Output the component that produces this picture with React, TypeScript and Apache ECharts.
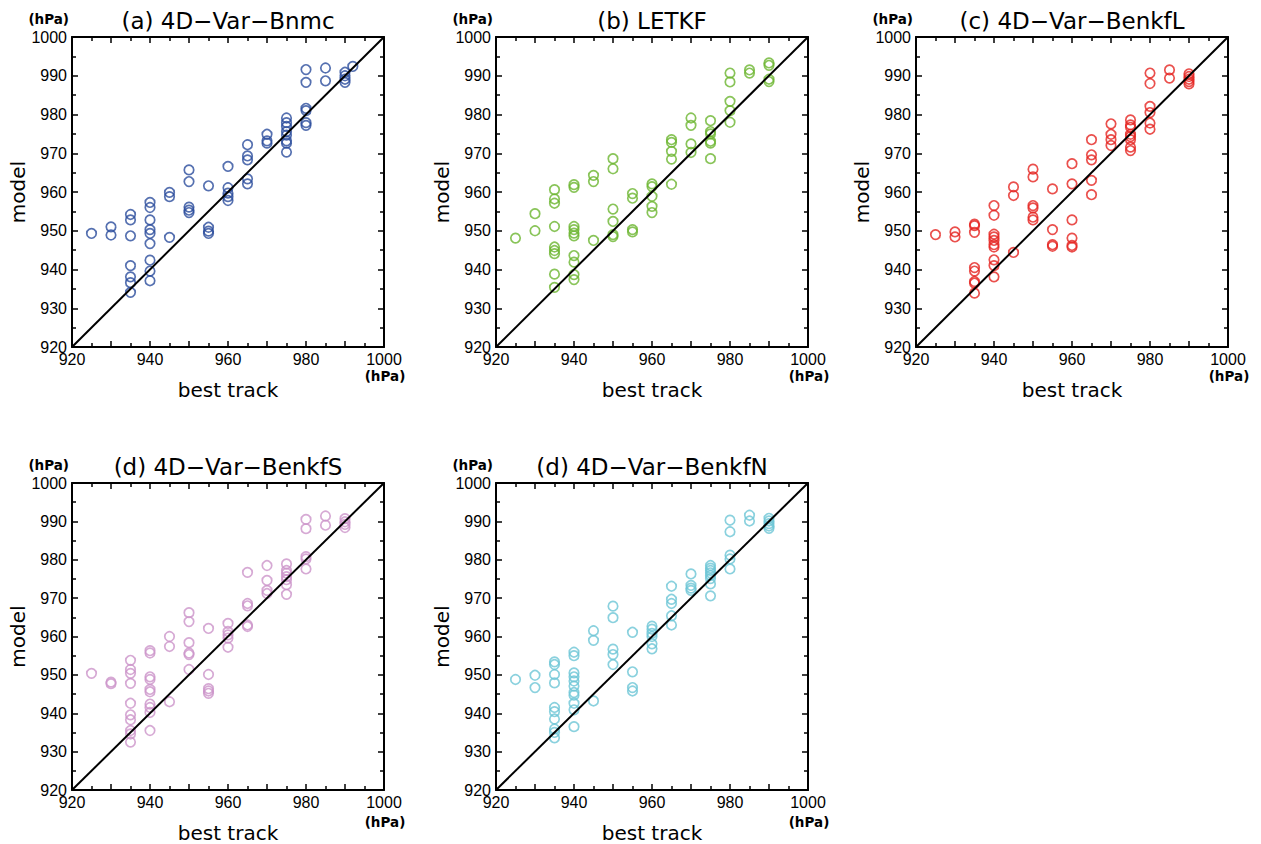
import React, { useEffect, useRef } from "react";
import * as echarts from "echarts";

// ---- data ----
const axisMin = 920;
const axisMax = 1000;
const diagonal: [number, number][] = [[920, 920], [1000, 1000]];

const titles = [
  "(a) 4D−Var−Bnmc",
  "(b) LETKF",
  "(c) 4D−Var−BenkfL",
  "(d) 4D−Var−BenkfS",
  "(d) 4D−Var−BenkfN",
];

const colors = ["#2b4c9c", "#6cb52f", "#e52421", "#cc94c9", "#6dc6d6"];

const bnmc: [number, number][] = [
  [925, 949.3], [930, 951.0], [930, 948.9],
  [935, 954.2], [935, 952.8], [935, 948.7], [935, 941.0], [935, 938.1], [935, 936.6], [935, 934.1],
  [940, 957.3], [940, 956.0], [940, 952.8], [940, 950.3], [940, 949.3], [940, 946.7], [940, 942.4], [940, 939.6], [940, 937.1],
  [945, 959.9], [945, 958.8], [945, 948.3],
  [950, 965.7], [950, 962.7], [950, 956.1], [950, 955.3], [950, 954.7],
  [955, 961.6], [955, 950.9], [955, 949.9], [955, 949.3],
  [960, 966.6], [960, 961.1], [960, 959.7], [960, 958.8], [960, 957.8],
  [965, 972.2], [965, 969.3], [965, 968.3], [965, 963.4], [965, 962.1],
  [970, 974.9], [970, 973.2], [970, 972.6],
  [975, 979.1], [975, 977.9], [975, 976.9], [975, 975.6], [975, 974.7], [975, 973.2], [975, 972.6], [975, 970.3],
  [980, 991.6], [980, 988.3], [980, 981.6], [980, 981.0], [980, 977.9], [980, 977.2],
  [985, 992.0], [985, 988.7],
  [990, 990.9], [990, 990.0], [990, 989.1], [990, 988.3],
  [992, 992.4],
];

const letkf: [number, number][] = [
  [925, 948.1], [930, 954.4], [930, 950.0],
  [935, 960.6], [935, 958.2], [935, 957.1], [935, 951.1], [935, 945.8], [935, 944.9], [935, 944.1], [935, 938.8], [935, 935.4],
  [940, 961.9], [940, 961.2], [940, 951.1], [940, 950.3], [940, 949.4], [940, 948.7], [940, 943.6], [940, 941.9], [940, 938.7], [940, 937.4],
  [945, 964.3], [945, 962.7], [945, 947.5],
  [950, 968.6], [950, 966.0], [950, 955.6], [950, 952.4], [950, 949.0], [950, 948.5],
  [955, 959.6], [955, 958.4], [955, 950.3], [955, 949.7],
  [960, 962.1], [960, 961.4], [960, 958.9], [960, 956.3], [960, 954.7],
  [965, 973.5], [965, 972.8], [965, 970.5], [965, 968.5], [965, 962.0],
  [970, 979.1], [970, 977.2], [970, 972.4], [970, 970.2],
  [975, 978.4], [975, 975.6], [975, 975.0], [975, 973.1], [975, 972.6], [975, 968.6],
  [980, 990.7], [980, 988.4], [980, 983.4], [980, 981.0], [980, 978.0],
  [985, 991.5], [985, 990.7],
  [990, 993.3], [990, 992.7], [990, 989.1], [990, 988.5],
];

const benkfL: [number, number][] = [
  [925, 949.0], [930, 949.7], [930, 948.4],
  [935, 951.7], [935, 951.3], [935, 949.6], [935, 940.5], [935, 939.6], [935, 936.9], [935, 936.5], [935, 933.9],
  [940, 956.5], [940, 954.0], [940, 949.1], [940, 948.4], [940, 947.5], [940, 946.4], [940, 945.8], [940, 942.5], [940, 941.0], [940, 938.1],
  [945, 961.3], [945, 959.1], [945, 944.4],
  [950, 965.9], [950, 963.9], [950, 956.5], [950, 955.9], [950, 953.5], [950, 952.8],
  [955, 960.8], [955, 950.3], [955, 946.4], [955, 946.0],
  [960, 967.3], [960, 962.1], [960, 952.8], [960, 948.1], [960, 946.2], [960, 945.8],
  [965, 973.5], [965, 969.6], [965, 968.3], [965, 963.0], [965, 959.3],
  [970, 977.6], [970, 974.9], [970, 973.5], [970, 972.0],
  [975, 978.6], [975, 977.3], [975, 976.7], [975, 974.9], [975, 974.3], [975, 973.5], [975, 971.6], [975, 970.7],
  [980, 990.7], [980, 988.0], [980, 982.1], [980, 980.5], [980, 977.8], [980, 976.2],
  [985, 991.5], [985, 989.4],
  [990, 990.5], [990, 989.8], [990, 989.1], [990, 988.5], [990, 987.9],
];

const benkfS: [number, number][] = [
  [925, 950.4], [930, 948.1], [930, 947.7],
  [935, 953.8], [935, 951.4], [935, 950.4], [935, 947.8], [935, 942.6], [935, 939.6], [935, 938.3], [935, 935.5], [935, 934.6], [935, 932.5],
  [940, 956.3], [940, 955.7], [940, 949.5], [940, 948.8], [940, 946.2], [940, 945.6], [940, 942.4], [940, 941.5], [940, 940.2], [940, 935.5],
  [945, 960.0], [945, 957.4], [945, 943.0],
  [950, 966.2], [950, 963.9], [950, 958.4], [950, 955.7], [950, 955.3], [950, 951.4],
  [955, 962.1], [955, 950.1], [955, 946.4], [955, 945.8], [955, 945.2],
  [960, 963.4], [960, 961.3], [960, 960.4], [960, 959.6], [960, 957.2],
  [965, 976.7], [965, 968.6], [965, 968.0], [965, 963.0], [965, 962.6],
  [970, 978.5], [970, 974.6], [970, 972.0], [970, 971.2],
  [975, 978.9], [975, 977.2], [975, 976.5], [975, 975.6], [975, 974.8], [975, 973.5], [975, 971.0],
  [980, 990.5], [980, 988.1], [980, 980.8], [980, 980.2], [980, 977.6],
  [985, 991.4], [985, 989.0],
  [990, 990.7], [990, 989.9], [990, 989.2], [990, 988.4],
];

const benkfN: [number, number][] = [
  [925, 948.8], [930, 949.9], [930, 946.7],
  [935, 953.4], [935, 952.7], [935, 950.1], [935, 947.9], [935, 941.5], [935, 940.4], [935, 938.5], [935, 935.9], [935, 935.0], [935, 933.6],
  [940, 955.9], [940, 955.0], [940, 950.5], [940, 949.5], [940, 948.4], [940, 947.1], [940, 945.4], [940, 944.7], [940, 942.6], [940, 940.9], [940, 936.5],
  [945, 961.5], [945, 959.0], [945, 943.2],
  [950, 967.9], [950, 964.9], [950, 956.7], [950, 955.3], [950, 952.7],
  [955, 961.1], [955, 950.8], [955, 946.7], [955, 945.8],
  [960, 962.7], [960, 961.9], [960, 960.8], [960, 960.0], [960, 958.1], [960, 956.8],
  [965, 973.1], [965, 969.7], [965, 968.6], [965, 965.4], [965, 963.0],
  [970, 976.3], [970, 973.3], [970, 972.6], [970, 972.0],
  [975, 978.5], [975, 977.8], [975, 977.2], [975, 976.6], [975, 975.9], [975, 975.1], [975, 973.7], [975, 970.6],
  [980, 990.3], [980, 987.3], [980, 981.2], [980, 980.2], [980, 977.6],
  [985, 991.6], [985, 990.1],
  [990, 990.8], [990, 990.1], [990, 989.4], [990, 988.8], [990, 988.2],
];

const panels = [bnmc, letkf, benkfL, benkfS, benkfN];

// ---- layout ----
const W = 312;
const H = 310;
const grids = [
  { left: 72, top: 37 },
  { left: 496, top: 37 },
  { left: 916, top: 37 },
  { left: 72, top: 483 },
  { left: 496, top: 483 },
];

const black = "#000";

function baseAxis(i: number) {
  return {
    type: "value",
    gridIndex: i,
    min: axisMin,
    max: axisMax,
    interval: 10,
    scale: true,
    axisLine: { show: true, onZero: false, lineStyle: { color: black, width: 2 } },
    axisTick: { show: true, inside: true, length: 6, lineStyle: { color: black, width: 1.5 } },
    minorTick: { show: true, splitNumber: 2, length: 4, lineStyle: { color: black, width: 1.5 } },
    splitLine: { show: false },
    minorSplitLine: { show: false },
  };
}

export default function App() {
  const ref = useRef<HTMLDivElement>(null);

  useEffect(() => {
    if (!ref.current) return;
    const chart = echarts.init(ref.current, undefined, { renderer: "svg" });

    const xAxes: any[] = [];
    const yAxes: any[] = [];
    grids.forEach((_, i) => {
      xAxes.push({
        ...baseAxis(i),
        position: "bottom",
        name: "best track",
        nameLocation: "middle",
        nameGap: 33,
        nameTextStyle: { fontFamily: "DejaVu Sans", fontSize: 20, color: black },
        axisLabel: {
          show: true,
          margin: 4,
          fontFamily: "Liberation Sans",
          fontSize: 16,
          color: black,
          formatter: (v: number) => (v % 20 === 0 ? String(v) : ""),
        },
      });
      yAxes.push({
        ...baseAxis(i),
        position: "left",
        name: "model",
        nameLocation: "middle",
        nameGap: 44,
        nameTextStyle: { fontFamily: "DejaVu Sans", fontSize: 20, color: black },
        axisLabel: {
          show: true,
          margin: 5,
          fontFamily: "Liberation Sans",
          fontSize: 16,
          color: black,
          formatter: (v: number) => String(v),
        },
      });
    });
    grids.forEach((_, i) => {
      xAxes.push({
        ...baseAxis(i),
        position: "top",
        name: titles[i],
        nameLocation: "middle",
        nameGap: 5,
        nameTextStyle: { fontFamily: "DejaVu Sans", fontSize: 23, color: black },
        axisLabel: { show: false },
      });
      yAxes.push({
        ...baseAxis(i),
        position: "right",
        axisLabel: { show: false },
      });
    });

    const series: any[] = [];
    panels.forEach((data, i) => {
      series.push({
        type: "scatter",
        xAxisIndex: i,
        yAxisIndex: i,
        data,
        symbol: "circle",
        symbolSize: 9.5,
        itemStyle: { color: "rgba(0,0,0,0)", borderColor: colors[i], borderWidth: 1.7 },
        emphasis: { disabled: true },
        z: 2,
      });
    });
    panels.forEach((_, i) => {
      series.push({
        type: "line",
        xAxisIndex: i,
        yAxisIndex: i,
        data: diagonal,
        symbol: "none",
        showSymbol: false,
        lineStyle: { color: black, width: 2 },
        emphasis: { disabled: true },
        z: 3,
      });
    });

    const graphic: any[] = [];
    grids.forEach((g) => {
      graphic.push({
        type: "text",
        x: g.left - 3,
        y: g.top - 18,
        style: {
          text: "(hPa)",
          fontFamily: "DejaVu Sans",
          fontWeight: "bold",
          fontSize: 13.5,
          fill: black,
          align: "right",
          verticalAlign: "middle",
        },
      });
      graphic.push({
        type: "text",
        x: g.left + W + 1,
        y: g.top + H + 29,
        style: {
          text: "(hPa)",
          fontFamily: "DejaVu Sans",
          fontWeight: "bold",
          fontSize: 13.5,
          fill: black,
          align: "center",
          verticalAlign: "middle",
        },
      });
    });

    chart.setOption({
      animation: false,
      backgroundColor: "#fff",
      grid: grids.map((g) => ({ left: g.left, top: g.top, width: W, height: H, containLabel: false })),
      xAxis: xAxes,
      yAxis: yAxes,
      series,
      graphic,
    });

    return () => chart.dispose();
  }, []);

  return (
    <div
      ref={ref}
      style={{ position: "absolute", left: 0, top: 0, width: 1261, height: 844 }}
    />
  );
}
